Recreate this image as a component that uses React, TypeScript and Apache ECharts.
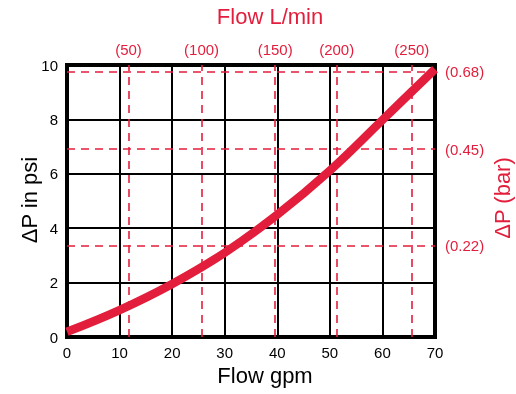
import React, { useEffect, useRef } from "react";
import * as echarts from "echarts";

const gpmValues = [0, 10, 20, 30, 40, 50, 60, 70];
const psiValues = [0.19, 0.99, 1.95, 3.1, 4.5, 6.12, 7.98, 9.85];

const lminLabels = ["(50)", "(100)", "(150)", "(200)", "(250)"];
const lminAtGpm = [11.7, 25.6, 39.6, 51.3, 65.6];

const barLabels = ["(0.22)", "(0.45)", "(0.68)"];
const barAtPsi = [3.36, 6.91, 9.75];

const xTitle = "Flow gpm";
const xTopTitle = "Flow L/min";
const yTitle = "ΔP in psi";
const yRightTitle = "ΔP (bar)";

const RED = "#E31E3C";
const FONT = "'Liberation Sans', Arial, sans-serif";

export default function App() {
  const ref = useRef<HTMLDivElement>(null);
  useEffect(() => {
    if (!ref.current) return;
    const chart = echarts.init(ref.current, undefined, { renderer: "svg" });
    const dashStyle = { color: RED, width: 1.6, type: [8, 6] as any };
    chart.setOption({
      animation: false,
      textStyle: { fontFamily: FONT },
      grid: {
        left: 67,
        right: 81,
        top: 65,
        bottom: 57,
        show: true,
        borderColor: "#000",
        borderWidth: 4,
        backgroundColor: "transparent",
      },
      xAxis: {
        type: "value",
        min: 0,
        max: 70,
        interval: 10,
        axisLine: { show: false },
        axisTick: { show: false },
        axisLabel: { color: "#000", fontSize: 15, margin: 8, fontFamily: FONT },
        splitLine: { show: true, lineStyle: { color: "#000", width: 2 } },
      },
      yAxis: {
        type: "value",
        min: 0,
        max: 10,
        interval: 2,
        axisLine: { show: false },
        axisTick: { show: false },
        axisLabel: { color: "#000", fontSize: 15, margin: 9, fontFamily: FONT },
        splitLine: { show: true, lineStyle: { color: "#000", width: 2 } },
      },
      graphic: [
        {
          type: "text",
          x: 270,
          y: 16,
          style: { text: xTopTitle, fill: RED, font: `22px ${FONT}`, textAlign: "center", textVerticalAlign: "middle" },
        },
        {
          type: "text",
          x: 265,
          y: 375,
          style: { text: xTitle, fill: "#000", font: `22px ${FONT}`, textAlign: "center", textVerticalAlign: "middle" },
        },
        {
          type: "text",
          x: 29,
          y: 200,
          rotation: Math.PI / 2,
          style: { text: yTitle, fill: "#000", font: `22px ${FONT}`, textAlign: "center", textVerticalAlign: "middle" },
        },
        {
          type: "text",
          x: 502,
          y: 198,
          rotation: Math.PI / 2,
          style: { text: yRightTitle, fill: RED, font: `22px ${FONT}`, textAlign: "center", textVerticalAlign: "middle" },
        },
      ],
      series: [
        {
          type: "line",
          z: 1,
          data: gpmValues.map((g, i) => [g, psiValues[i]]),
          showSymbol: false,
          lineStyle: { opacity: 0 },
          silent: true,
          markLine: {
            symbol: "none",
            silent: true,
            lineStyle: dashStyle,
            data: [
              ...lminAtGpm.map((g, i) => ({
                xAxis: g,
                label: {
                  show: true,
                  position: "end",
                  distance: 8,
                  formatter: lminLabels[i],
                  color: RED,
                  fontSize: 15,
                  fontFamily: FONT,
                },
                lineStyle: dashStyle,
              })),
              ...barAtPsi.map((p, i) => ({
                yAxis: p,
                label: {
                  show: true,
                  position: "end",
                  distance: 10,
                  formatter: barLabels[i],
                  color: RED,
                  fontSize: 15,
                  fontFamily: FONT,
                },
                lineStyle: dashStyle,
              })),
            ],
          },
        },
        {
          type: "line",
          z: 5,
          data: gpmValues.map((g, i) => [g, psiValues[i]]),
          smooth: 0.4,
          showSymbol: false,
          lineStyle: { color: RED, width: 8.5, cap: "butt" },
          itemStyle: { color: RED },
        },
      ],
    });
    return () => chart.dispose();
  }, []);
  return <div ref={ref} style={{ position: "fixed", left: 0, top: 0, width: 516, height: 394 }} />;
}
